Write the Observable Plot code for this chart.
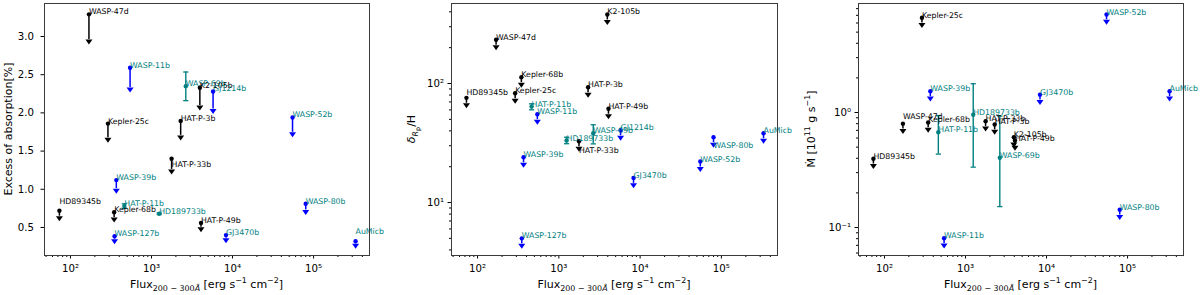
<!DOCTYPE html>
<html><head><meta charset="utf-8">
<script src="https://cdn.jsdelivr.net/npm/d3@7"></script>
<script src="https://cdn.jsdelivr.net/npm/@observablehq/plot@0.6"></script>
<style>
html,body{margin:0;padding:0;background:#fff;}
#chart{position:relative;width:1200px;height:295px;font-family:"DejaVu Sans",sans-serif;color:#000;overflow:hidden}
.panel{position:absolute;top:0;width:400px;height:295px}
.xlab{position:absolute;top:279px;font-size:11px;white-space:nowrap;transform:translateX(-50%);line-height:1}
.ylab{position:absolute;font-size:11px;white-space:nowrap;transform:translate(-50%,-50%) rotate(-90deg);line-height:1}
sub,sup{font-size:72%;line-height:0}
sub sub{font-size:80%}
</style></head><body><div id="chart"></div>
<script>
// ---------------- data ----------------
const planets = ["HD89345b","WASP-47d","Kepler-25c","Kepler-68b","WASP-127b","WASP-39b","HAT-P-11b","WASP-11b","HD189733b","HAT-P-33b","HAT-P-3b","WASP-69b","K2-105b","HAT-P-49b","GJ1214b","GJ3470b","WASP-52b","WASP-80b","AuMicb"];
const flux = [73,169,290,346,350,368,462,544,1245,1770,2290,2650,3950,4080,5750,8300,55000,80000,330000];
// black = upper limit (black), blue = upper limit (blue), teal = detection
const group = ["black","black","black","black","blue","blue","teal","blue","teal","black","black","teal","black","black","blue","blue","blue","blue","blue"];

const absorption   = [0.72,3.29,1.86,0.70,0.385,1.12,0.78,2.59,0.68,1.40,1.895,2.35,2.33,0.56,2.28,0.40,1.94,0.81,0.32];
const absorptionLo = [null,null,null,null,null,null,0.75,null,0.67,null,null,2.16,null,null,null,null,null,null,null];
const absorptionHi = [null,null,null,null,null,null,0.81,null,0.69,null,null,2.535,null,null,null,null,null,null,null];

const deltaH   = [75.8,233,82.9,113,5.0,24.0,64,55.2,33.2,32.7,93,38.2,380,61.3,40.5,16.1,22.1,35.4,38.2];
const deltaHLo = [null,null,null,null,null,null,60.1,null,31.2,null,null,31.1,null,null,null,null,null,null,null];
const deltaHHi = [null,null,null,null,null,null,67.5,null,35.4,null,null,45,null,null,null,null,null,null,null];

const mdot   = [0.396,0.80,6.66,0.82,null,1.53,0.674,0.0807,0.955,0.84,0.787,0.404,0.61,0.57,null,1.43,7.11,0.1425,1.53];
const mdotLo = [null,null,null,null,null,null,0.435,null,0.335,null,null,0.152,null,null,null,null,null,null,null];
const mdotHi = [null,null,null,null,null,null,0.94,null,1.78,null,null,0.93,null,null,null,null,null,null,null];

const UPLIM_FRAC = 0.1; // length of upper-limit bars (fraction of value)

const xTicks = [1e2,1e3,1e4,1e5];
const xTickLabels = ["10²","10³","10⁴","10⁵"];
const absTicks = [0.5,1.0,1.5,2.0,2.5,3.0];
const absTickLabels = ["0.5","1.0","1.5","2.0","2.5","3.0"];
const deltaTicks = [10,100];
const deltaTickLabels = ["10¹","10²"];
const mdotTicks = [0.1,1];
const mdotTickLabels = ["10⁻¹","10⁰"];

// ---------------- style ----------------
const colorOf = {black:"#000000", blue:"#0000ff", teal:"#008080"};
const labelColorOf = {black:"#000000", blue:"#008080", teal:"#008080"};
const labelNudge = {
  abs:   {"HD89345b": -7, "HAT-P-33b": 8, "AuMicb": -7},
  delta: {"HD89345b": -3, "HAT-P-33b": 12, "WASP-80b": 11},
  mdot:  {"WASP-47d": -5}
};
const X_DOMAIN = [47.8, 4.9e5];
const caretDown = {draw(ctx){ ctx.moveTo(-3.5,0); ctx.lineTo(3.5,0); ctx.lineTo(0,5); ctx.closePath(); }};
const capSym = {draw(ctx){ ctx.moveTo(-2.6,0); ctx.lineTo(2.6,0); }};

function minorTicks(dom){
  const out=[];
  for (let e=-3;e<=6;e++) for (let k=2;k<=9;k++){ const v=k*Math.pow(10,e); if (v>dom[0] && v<dom[1]) out.push(v); }
  return out;
}

function rows(values, lo, hi){
  return planets.map((name,i)=>({name, flux:flux[i], group:group[i], v:values[i], lo:lo[i], hi:hi[i]})).filter(d=>d.v!=null);
}

function panel({key, values, lo, hi, yType, yDomain, yTicks, yTickLabels, marginLeft, marginRight, yPad}){
  const data = rows(values, lo, hi);
  const lims = data.filter(d=>d.group!=="teal");
  const dets = data.filter(d=>d.group==="teal");
  const nudges = labelNudge[key];
  const groups = d3.group(data, d => nudges[d.name] ?? 0);
  const textMarks = [...groups].map(([dy, arr]) => Plot.text(arr, {
    x:"flux", y:"v", text:"name", textAnchor:"start", lineAnchor:"bottom", dy,
    fill: d=>labelColorOf[d.group], fontSize:7.8
  }));
  const yMarks = [
    Plot.axisY({ticks: yTicks, tickFormat: d=>yTickLabels[yTicks.indexOf(d)], tickSize:3.5, tickPadding:yPad, label:null, fontSize:10.2})
  ];
  if (yType==="log") yMarks.unshift(Plot.axisY({ticks: minorTicks(yDomain), tickFormat: ()=>"", tickSize:2, label:null}));
  return Plot.plot({
    width:400, height:295, marginLeft, marginRight, marginTop:3, marginBottom:40,
    style:{fontFamily:"DejaVu Sans, sans-serif", background:"transparent", color:"#000"},
    x:{type:"log", domain:X_DOMAIN},
    y:{type:yType, domain:yDomain},
    color:{type:"identity"},
    marks:[
      Plot.axisX({ticks: minorTicks(X_DOMAIN), tickFormat: ()=>"", tickSize:2, label:null}),
      Plot.axisX({ticks: xTicks, tickFormat: d=>xTickLabels[xTicks.indexOf(d)], tickSize:3.5, tickPadding:5.5, label:null, fontSize:10.2}),
      ...yMarks,
      Plot.ruleX(lims, {x:"flux", y1:"v", y2:d=>d.v*(1-UPLIM_FRAC), stroke:d=>colorOf[d.group], strokeWidth:1.5}),
      Plot.ruleX(dets, {x:"flux", y1:"lo", y2:"hi", stroke:d=>colorOf[d.group], strokeWidth:1.4}),
      Plot.dot(dets, {x:"flux", y:"lo", symbol:capSym, stroke:d=>colorOf[d.group], fill:"none", strokeWidth:1.3}),
      Plot.dot(dets, {x:"flux", y:"hi", symbol:capSym, stroke:d=>colorOf[d.group], fill:"none", strokeWidth:1.3}),
      Plot.dot(lims, {x:"flux", y:d=>d.v*(1-UPLIM_FRAC), symbol:caretDown, fill:d=>colorOf[d.group], stroke:"none"}),
      Plot.dot(data, {x:"flux", y:"v", r:2.2, fill:d=>colorOf[d.group], stroke:"none"}),
      ...textMarks,
      Plot.frame({stroke:"#3a3a3a", strokeWidth:1})
    ]
  });
}

const chart = document.getElementById("chart");
const specs = [
  {left:0, key:"abs", values:absorption, lo:absorptionLo, hi:absorptionHi, yType:"linear", yDomain:[0.133,3.432], yTicks:absTicks, yTickLabels:absTickLabels, marginLeft:44, marginRight:31, yPad:7},
  {left:400, key:"delta", values:deltaH, lo:deltaHLo, hi:deltaHHi, yType:"log", yDomain:[3.59,470], yTicks:deltaTicks, yTickLabels:deltaTickLabels, marginLeft:51, marginRight:23, yPad:4},
  {left:800, key:"mdot", values:mdot, lo:mdotLo, hi:mdotHi, yType:"log", yDomain:[0.0571,8.87], yTicks:mdotTicks, yTickLabels:mdotTickLabels, marginLeft:58, marginRight:17, yPad:4}
];
for (const s of specs){
  const div = document.createElement("div");
  div.className="panel"; div.style.left = s.left+"px";
  div.appendChild(panel(s));
  chart.appendChild(div);
  const xl = document.createElement("div");
  xl.className="xlab";
  xl.style.left = (s.left + s.marginLeft + (400 - s.marginLeft - s.marginRight)/2) + "px";
  xl.innerHTML = 'Flux<sub>200 − 300<i>Å</i></sub> [erg s<sup>−1</sup> cm<sup>−2</sup>]';
  chart.appendChild(xl);
}
const yLabels = [
  {x:8, html:"Excess of absorption[%]"},
  {x:412, html:'<i>δ</i><sub><i>R</i><sub>p</sub></sub>/H'},
  {x:811, html:'Ṁ [10<sup>11</sup> g s<sup>−1</sup>]'}
];
for (const l of yLabels){
  const d = document.createElement("div");
  d.className="ylab"; d.style.left=l.x+"px"; d.style.top="129px";
  d.innerHTML = l.html;
  chart.appendChild(d);
}
</script>
</body></html>
